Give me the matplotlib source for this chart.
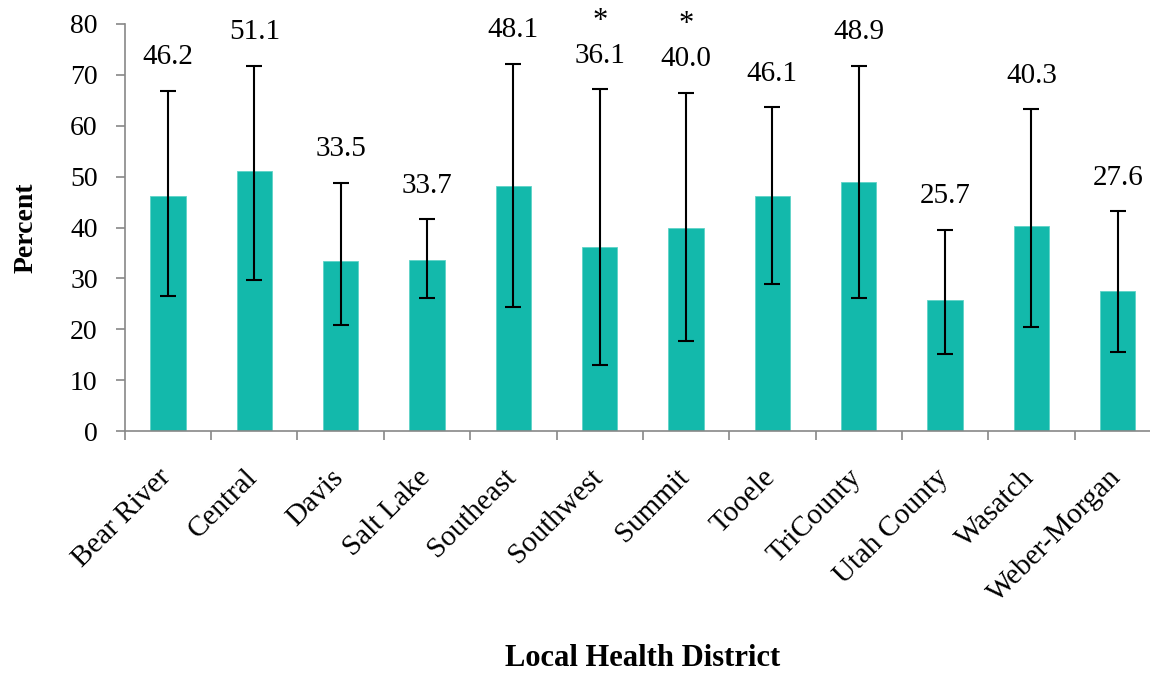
import matplotlib
matplotlib.use("Agg")
import matplotlib.pyplot as plt
import matplotlib.transforms as mtransforms
import numpy as np

districts = ["Bear River", "Central", "Davis", "Salt Lake", "Southeast", "Southwest",
             "Summit", "Tooele", "TriCounty", "Utah County", "Wasatch", "Weber-Morgan"]
percent = [46.2, 51.1, 33.5, 33.7, 48.1, 36.1, 40.0, 46.1, 48.9, 25.7, 40.3, 27.6]
ci_low = [26.5, 29.7, 20.8, 26.2, 24.4, 13.0, 17.7, 28.9, 26.2, 15.2, 20.5, 15.5]
ci_high = [66.9, 71.8, 48.8, 41.7, 72.2, 67.2, 66.5, 63.7, 71.8, 39.6, 63.3, 43.2]
flagged = [False, False, False, False, False, True, True, False, False, False, False, False]

plt.rcParams['font.family'] = ['Liberation Serif', 'DejaVu Serif']

fig = plt.figure(figsize=(11.5, 6.76), dpi=100)
ax = fig.add_axes([0.1085, 0.3624, 0.901, 0.6021])

x = np.arange(len(districts))
vals = np.array(percent)
yerr = [vals - np.array(ci_low), np.array(ci_high) - vals]

ax.bar(x, vals, width=0.41, color="#13B9AB", edgecolor="#5fd3c8", linewidth=0.6, zorder=2)
ax.errorbar(x, vals, yerr=yerr, fmt="none", ecolor="black", elinewidth=1.5,
            capsize=5.5, capthick=1.5, zorder=3)

# value labels above the upper error bar
for i in range(len(districts)):
    ax.annotate("%.1f" % percent[i], (x[i], ci_high[i]), xytext=(0, 24),
                textcoords="offset points", ha="center", va="center", fontsize=21)
    if flagged[i]:
        ax.annotate("*", (x[i], ci_high[i]), xytext=(0, 49),
                    textcoords="offset points", ha="center", va="center", fontsize=22)

ax.set_xlim(-0.5, len(districts) - 0.5)
ax.set_ylim(0, 80)
ax.set_yticks(range(0, 81, 10))
ax.tick_params(axis="y", labelsize=20, length=6.5, width=1.2, color="#888888", pad=13)

ax.set_xticks(x)
ax.set_xticklabels(districts, rotation=45, ha="right", rotation_mode="anchor", fontsize=21)
ax.set_xticks(np.arange(-0.5, len(districts), 1.0), minor=True)
ax.tick_params(axis="x", which="major", length=0, pad=24)
ax.tick_params(axis="x", which="minor", length=6.5, width=1.2, color="#888888")
shift = mtransforms.ScaledTranslation(-0.10, 0, fig.dpi_scale_trans)
for lab in ax.get_xticklabels():
    lab.set_transform(lab.get_transform() + shift)

for s in ["top", "right"]:
    ax.spines[s].set_visible(False)
for s in ["left", "bottom"]:
    ax.spines[s].set_color("#888888")
    ax.spines[s].set_linewidth(1.2)

ax.set_ylabel("Percent", fontsize=20, fontweight="bold", labelpad=23)
fig.text(0.559, 0.004, "Local Health District", ha="center", va="bottom",
         fontsize=22, fontweight="bold")

plt.savefig("out.png", dpi=100)
